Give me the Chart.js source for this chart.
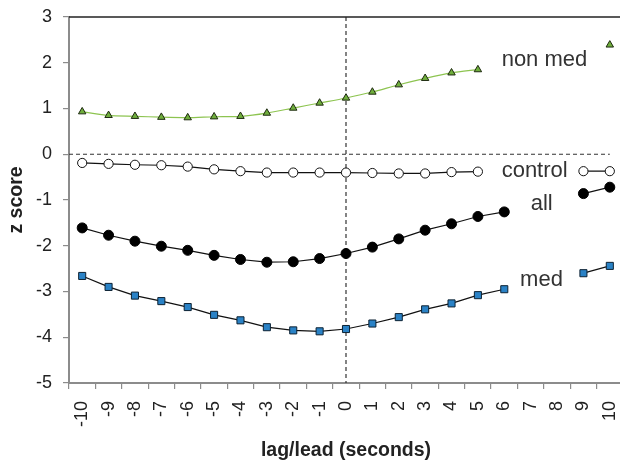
<!DOCTYPE html>
<html>
<head>
<meta charset="utf-8">
<script src="https://cdn.jsdelivr.net/npm/chart.js@4/dist/chart.umd.min.js"></script>
<style>
  html, body { margin: 0; padding: 0; background: #fff; overflow: hidden; }
  #wrap { width: 629px; height: 466px; }
</style>
</head>
<body>
<div id="wrap"><canvas id="chart" width="629" height="466"></canvas></div>
<script>
// lag/lead in seconds
const lags = ['-10', '-9', '-8', '-7', '-6', '-5', '-4', '-3', '-2', '-1', '0',
              '1', '2', '3', '4', '5', '6', '7', '8', '9', '10'];

// z scores (null where the inline label hides the series)
const nonMed = [0.93, 0.85, 0.83, 0.81, 0.80, 0.82, 0.83, 0.90, 1.01, 1.12, 1.23,
                1.36, 1.52, 1.66, 1.78, 1.85, null, null, null, null, 2.39];
const control = [-0.19, -0.21, -0.23, -0.24, -0.27, -0.33, -0.37, -0.40, -0.40, -0.40, -0.40,
                 -0.41, -0.42, -0.42, -0.39, -0.38, null, null, null, -0.37, -0.37];
const all = [-1.61, -1.77, -1.90, -2.01, -2.10, -2.21, -2.30, -2.36, -2.35, -2.28, -2.17,
             -2.03, -1.85, -1.66, -1.52, -1.36, -1.26, null, null, -0.86, -0.72];
const med = [-2.66, -2.90, -3.09, -3.21, -3.34, -3.51, -3.63, -3.78, -3.85, -3.87, -3.82,
             -3.70, -3.56, -3.39, -3.26, -3.08, -2.95, null, null, -2.60, -2.44];

const FONT = "'Liberation Sans', Arial, sans-serif";

// dashed reference lines, top border and inline series names
const decorations = {
    id: 'decorations',
    beforeDatasetsDraw(chart) {
        const {ctx, chartArea, scales: {x, y}} = chart;
        ctx.save();
        ctx.strokeStyle = '#333';
        ctx.lineWidth = 1.2;
        ctx.setLineDash([4, 3]);
        const y0 = y.getPixelForValue(0);
        ctx.beginPath();
        ctx.moveTo(chartArea.left, y0);
        ctx.lineTo(x.getPixelForValue(20), y0);
        ctx.stroke();
        const x0 = x.getPixelForValue(10);
        ctx.beginPath();
        ctx.moveTo(x0, chartArea.top);
        ctx.lineTo(x0, chartArea.bottom);
        ctx.stroke();
        ctx.setLineDash([]);
        ctx.strokeStyle = '#222';
        ctx.lineWidth = 1.5;
        ctx.beginPath();
        ctx.moveTo(chartArea.left, chartArea.top);
        ctx.lineTo(chartArea.right, chartArea.top);
        ctx.stroke();
        ctx.restore();
    },
    afterDatasetsDraw(chart) {
        const {ctx, scales: {x, y}} = chart;
        const names = [
            ['non med', 15.9, 1.92],
            ['control', 15.9, -0.5],
            ['all', 17.0, -1.21],
            ['med', 16.6, -2.89]
        ];
        ctx.save();
        ctx.font = '22px ' + FONT;
        ctx.fillStyle = '#333';
        ctx.textAlign = 'left';
        ctx.textBaseline = 'alphabetic';
        names.forEach(([text, xi, yv]) => {
            ctx.fillText(text, x.getPixelForValue(xi), y.getPixelForValue(yv));
        });
        ctx.restore();
    }
};

new Chart(document.getElementById('chart'), {
    type: 'line',
    data: {
        labels: lags,
        datasets: [
            {
                label: 'non med',
                data: nonMed,
                borderColor: '#8dc450',
                borderWidth: 1.2,
                tension: 0.25,
                pointStyle: 'triangle',
                pointRadius: 4.3,
                pointBackgroundColor: '#6fae3c',
                pointBorderColor: '#1e2a10',
                pointBorderWidth: 1
            },
            {
                label: 'control',
                data: control,
                borderColor: '#111',
                borderWidth: 1.2,
                pointStyle: 'circle',
                pointRadius: 4.6,
                pointBackgroundColor: '#fff',
                pointBorderColor: '#111',
                pointBorderWidth: 1
            },
            {
                label: 'all',
                data: all,
                borderColor: '#111',
                borderWidth: 1.2,
                pointStyle: 'circle',
                pointRadius: 5,
                pointBackgroundColor: '#000',
                pointBorderColor: '#000',
                pointBorderWidth: 1
            },
            {
                label: 'med',
                data: med,
                borderColor: '#111',
                borderWidth: 1.2,
                pointStyle: 'rect',
                pointRadius: 5,
                pointBackgroundColor: '#2a82c6',
                pointBorderColor: '#0d2233',
                pointBorderWidth: 1
            }
        ]
    },
    options: {
        responsive: false,
        animation: false,
        spanGaps: false,
        layout: { padding: { top: 17, right: 0, left: 0, bottom: 0 } },
        plugins: {
            legend: { display: false },
            tooltip: { enabled: false }
        },
        scales: {
            x: {
                type: 'category',
                offset: true,
                afterFit: (s) => {
                    s.height = 83;
                    s.paddingLeft = 0;
                    s.paddingRight = 0;
                },
                grid: {
                    offset: true,
                    drawOnChartArea: false,
                    drawTicks: true,
                    tickLength: 6,
                    color: '#8c8c8c',
                    lineWidth: 1.2
                },
                border: { color: '#8c8c8c', width: 2 },
                ticks: {
                    autoSkip: false,
                    minRotation: 90,
                    maxRotation: 90,
                    padding: 12,
                    color: '#222',
                    font: { family: FONT, size: 18 }
                },
                title: {
                    display: true,
                    text: 'lag/lead (seconds)',
                    color: '#222',
                    font: { family: FONT, size: 19.5, weight: 'bold' },
                    padding: { top: 0, bottom: 3.3 }
                }
            },
            y: {
                min: -5,
                max: 3,
                afterFit: (s) => {
                    s.width = 69;
                    s.paddingTop = 0;
                    s.paddingBottom = 0;
                },
                grid: {
                    drawOnChartArea: false,
                    drawTicks: true,
                    tickLength: 6,
                    color: '#8c8c8c',
                    lineWidth: 1.2
                },
                border: { color: '#8c8c8c', width: 2 },
                ticks: {
                    stepSize: 1,
                    padding: 11,
                    color: '#222',
                    font: { family: FONT, size: 18 }
                },
                title: {
                    display: true,
                    text: 'z score',
                    color: '#222',
                    font: { family: FONT, size: 19.5, weight: 'bold' },
                    padding: { top: 5.3, bottom: 0 }
                }
            }
        }
    },
    plugins: [decorations]
});
</script>
</body>
</html>
